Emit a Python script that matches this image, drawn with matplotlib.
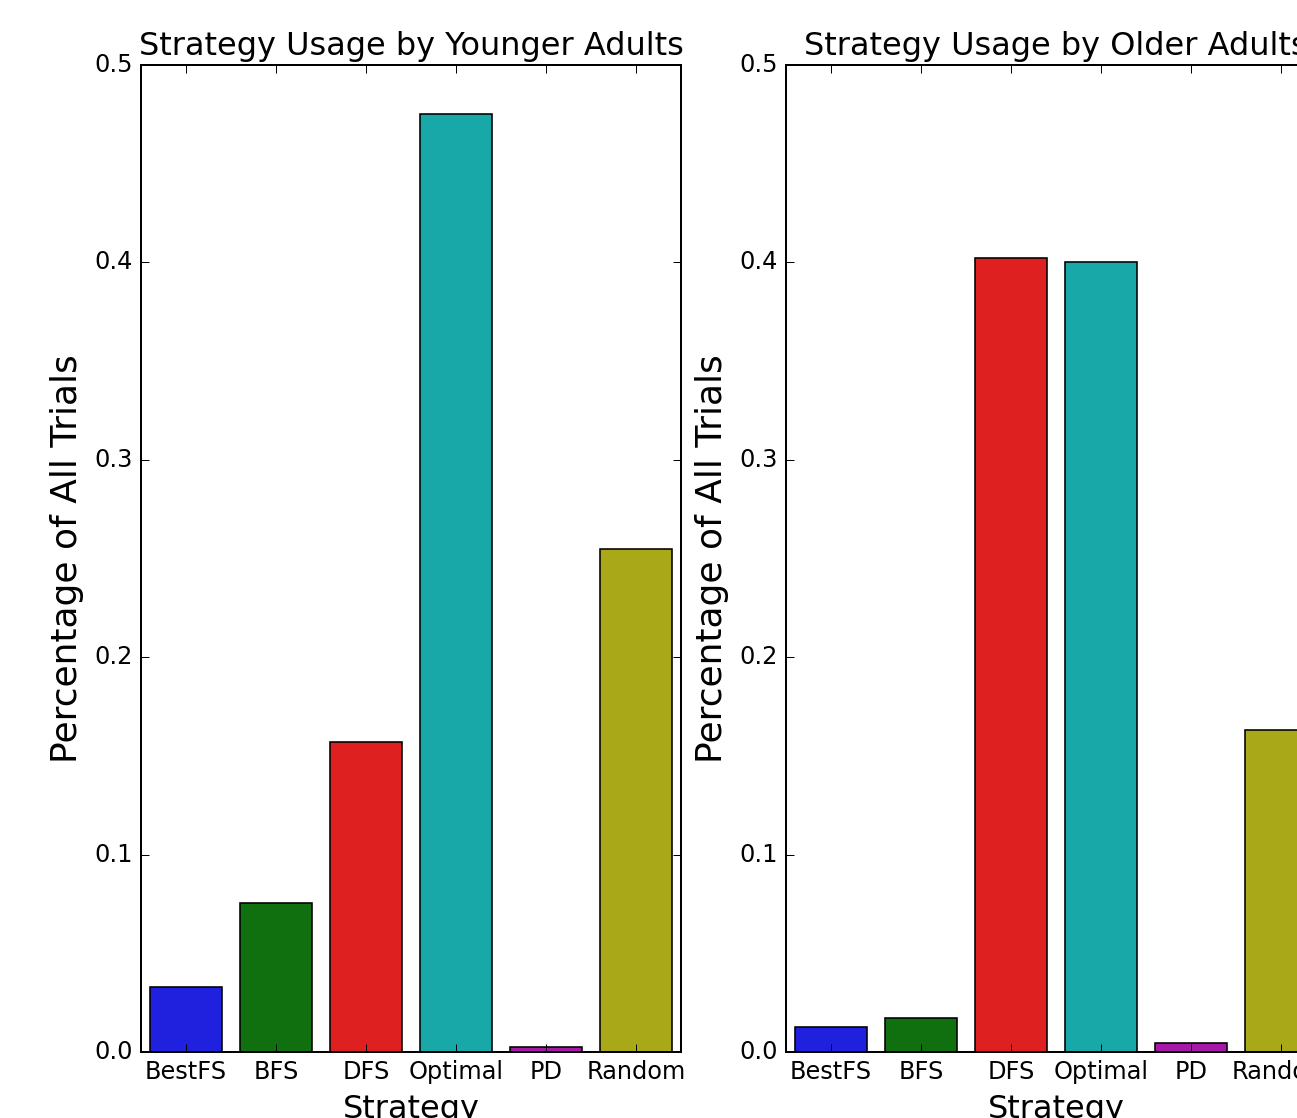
import matplotlib
matplotlib.use('Agg')
import matplotlib.pyplot as plt

plt.style.use('classic')

strategies = ['BestFS', 'BFS', 'DFS', 'Optimal', 'PD', 'Random']
younger = [0.0331, 0.0755, 0.157, 0.475, 0.0027, 0.255]
older = [0.0125, 0.0171, 0.4025, 0.400, 0.0044, 0.163]
# classic b g r c m y, desaturated to 75%
colors = ['#2020DF', '#107010', '#DF2020', '#18A8A8', '#A818A8', '#A8A818']

titles = ['Strategy Usage by Younger Adults', 'Strategy Usage by Older Adults']

DPI = 144
fig = plt.figure(figsize=(1297 / DPI, 1118 / DPI), dpi=DPI, facecolor='white')
ax1 = fig.add_axes([0.1087, 0.0590, 0.4163, 0.8828])
ax2 = fig.add_axes([0.6060, 0.0590, 0.4163, 0.8828])

for ax, vals, title in zip([ax1, ax2], [younger, older], titles):
    xs = list(range(len(strategies)))
    ax.bar(xs, vals, width=0.8, color=colors, edgecolor='black', linewidth=0.8,
           align='center')
    ax.set_xlim(-0.5, len(strategies) - 0.5)
    ax.set_ylim(0, 0.5)
    ax.set_xticks(xs)
    ax.set_xticklabels(strategies, fontsize=12)
    ax.set_yticks([0.0, 0.1, 0.2, 0.3, 0.4, 0.5])
    ax.tick_params(labelsize=12)
    ax.set_xlabel('Strategy', fontsize=16)
    ax.set_ylabel('Percentage of All Trials', fontsize=18)
    ax.set_title(title, fontsize=16)

fig.savefig('out.png', dpi=DPI, facecolor='white')
